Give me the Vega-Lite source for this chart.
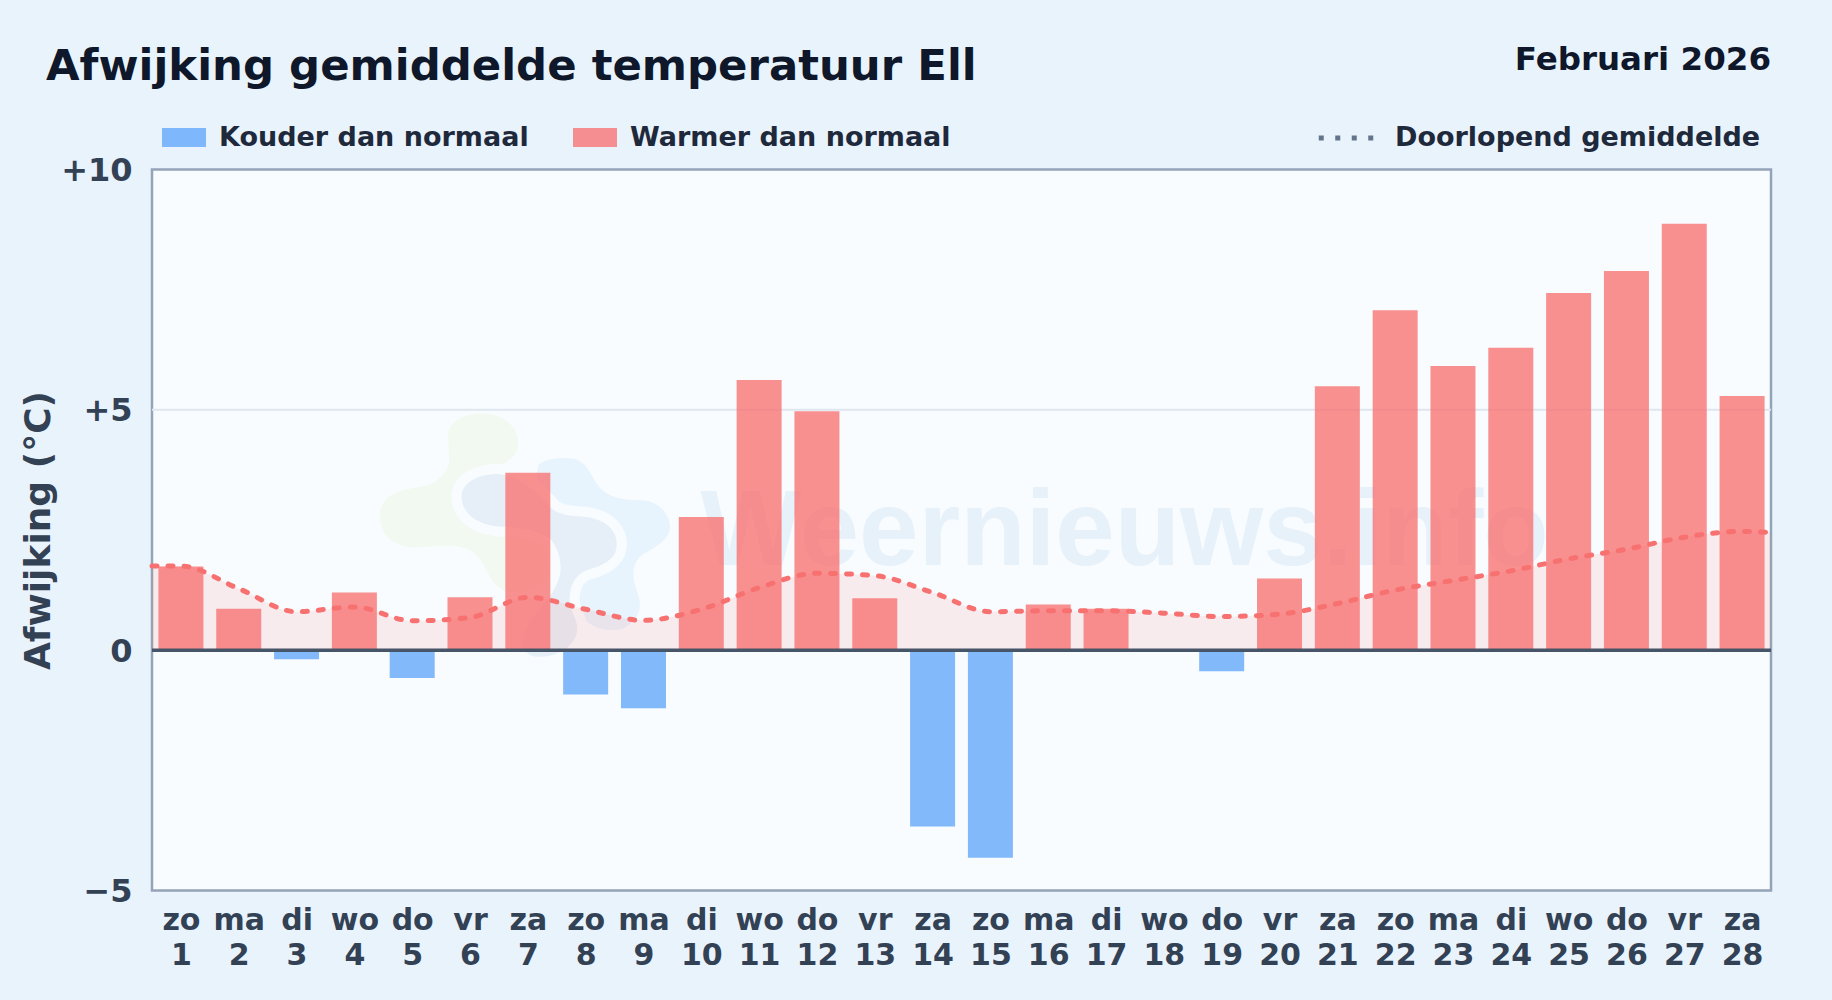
{"$schema":"https://vega.github.io/schema/vega-lite/v6.json","autosize":"none","width":1619,"height":721,"padding":{"left":152,"top":169.5,"right":61,"bottom":109.5},"background":"#e9f3fc","view":{"fill":"#f8fcff","stroke":"#94a3b8","strokeWidth":2.5},"config":{"font":"DejaVu Sans","axis":{"domain":false,"ticks":false,"grid":false,"title":null}},"datasets":{"dagen":[{"day":1,"afwijking":1.74,"type":"Warmer dan normaal"},{"day":2,"afwijking":0.86,"type":"Warmer dan normaal"},{"day":3,"afwijking":-0.19,"type":"Kouder dan normaal"},{"day":4,"afwijking":1.2,"type":"Warmer dan normaal"},{"day":5,"afwijking":-0.58,"type":"Kouder dan normaal"},{"day":6,"afwijking":1.1,"type":"Warmer dan normaal"},{"day":7,"afwijking":3.69,"type":"Warmer dan normaal"},{"day":8,"afwijking":-0.92,"type":"Kouder dan normaal"},{"day":9,"afwijking":-1.21,"type":"Kouder dan normaal"},{"day":10,"afwijking":2.77,"type":"Warmer dan normaal"},{"day":11,"afwijking":5.62,"type":"Warmer dan normaal"},{"day":12,"afwijking":4.97,"type":"Warmer dan normaal"},{"day":13,"afwijking":1.08,"type":"Warmer dan normaal"},{"day":14,"afwijking":-3.67,"type":"Kouder dan normaal"},{"day":15,"afwijking":-4.32,"type":"Kouder dan normaal"},{"day":16,"afwijking":0.95,"type":"Warmer dan normaal"},{"day":17,"afwijking":0.86,"type":"Warmer dan normaal"},{"day":18,"afwijking":0,"type":"Warmer dan normaal"},{"day":19,"afwijking":-0.44,"type":"Kouder dan normaal"},{"day":20,"afwijking":1.49,"type":"Warmer dan normaal"},{"day":21,"afwijking":5.49,"type":"Warmer dan normaal"},{"day":22,"afwijking":7.07,"type":"Warmer dan normaal"},{"day":23,"afwijking":5.91,"type":"Warmer dan normaal"},{"day":24,"afwijking":6.29,"type":"Warmer dan normaal"},{"day":25,"afwijking":7.43,"type":"Warmer dan normaal"},{"day":26,"afwijking":7.89,"type":"Warmer dan normaal"},{"day":27,"afwijking":8.87,"type":"Warmer dan normaal"},{"day":28,"afwijking":5.29,"type":"Warmer dan normaal"}],"gemiddelde":[{"day":0.5,"gem":1.75},{"day":1,"gem":1.75},{"day":2,"gem":1.28},{"day":3,"gem":0.8},{"day":4,"gem":0.9},{"day":5,"gem":0.61},{"day":6,"gem":0.68},{"day":7,"gem":1.1},{"day":8,"gem":0.85},{"day":9,"gem":0.62},{"day":10,"gem":0.85},{"day":11,"gem":1.3},{"day":12,"gem":1.6},{"day":13,"gem":1.55},{"day":14,"gem":1.2},{"day":15,"gem":0.8},{"day":16,"gem":0.82},{"day":17,"gem":0.82},{"day":18,"gem":0.77},{"day":19,"gem":0.7},{"day":20,"gem":0.75},{"day":21,"gem":0.97},{"day":22,"gem":1.25},{"day":23,"gem":1.45},{"day":24,"gem":1.65},{"day":25,"gem":1.9},{"day":26,"gem":2.1},{"day":27,"gem":2.35},{"day":28,"gem":2.47},{"day":28.5,"gem":2.45}],"logo":[{"day":4.097,"waarde":5.409}],"merk":[{"day":17.32,"waarde":1.77,"tekst":"Weernieuws.info"}],"maand":[{"tekst":"Februari 2026"}],"kop":[{"tekst":"Afwijking gemiddelde temperatuur Ell"}]},"layer":[{"data":{"name":"logo"},"mark":{"type":"point","filled":true,"fill":"#f2f9f1","strokeWidth":0,"opacity":1,"size":0.4444,"shape":"M265,130C265,95 315,70 370,70C430,70 475,110 475,160C475,210 420,225 380,240L500,420C560,440 585,480 580,530C560,590 480,620 430,600C380,570 380,520 345,490C300,455 230,470 170,472C110,475 60,440 60,380C60,320 110,300 180,290C240,280 265,240 268,210C268,180 265,160 265,130Z"},"encoding":{"x":{"field":"day","type":"quantitative","scale":{"domain":[0.5,28.5],"nice":false,"zero":false,"padding":0},"axis":{"values":[1,2,3,4,5,6,7,8,9,10,11,12,13,14,15,16,17,18,19,20,21,22,23,24,25,26,27,28],"title":null,"domain":false,"ticks":false,"grid":false,"labelOverlap":false,"labelBound":false,"labelFlush":false,"labelAngle":0,"labelFont":"DejaVu Sans","labelFontSize":30,"labelFontWeight":"bold","labelColor":"#334155","labelPadding":15,"labelLineHeight":35,"labelExpr":"[['zo','ma','di','wo','do','vr','za'][(datum.value-1)%7], ''+datum.value]"}},"y":{"field":"waarde","type":"quantitative","scale":{"domain":[-5,10],"nice":false,"zero":false,"padding":0},"axis":{"values":[-5,0,5,10],"title":"Afwijking (°C)","titleFont":"DejaVu Sans","titleFontSize":36,"titleFontWeight":"bold","titleColor":"#334155","titlePadding":3,"domain":false,"ticks":false,"grid":false,"labelPadding":20,"labelOffset":1,"labelFont":"DejaVu Sans","labelFontSize":32,"labelFontWeight":"bold","labelColor":"#334155","labelExpr":"datum.value>0 ? '+'+datum.value : (datum.value<0 ? '−'+abs(datum.value) : '0')"}}}},{"data":{"name":"logo"},"mark":{"type":"point","filled":true,"fill":"#e7f4fd","strokeWidth":0,"opacity":1,"size":0.4444,"shape":"M535,225C555,205 600,200 640,205C680,215 690,250 710,280C740,325 790,330 850,330C900,335 930,375 930,410C930,450 880,475 845,495C815,520 815,560 830,600C845,640 850,680 790,715C740,730 690,710 665,680C640,640 620,640 600,600L570,400C540,340 525,260 535,225Z"},"encoding":{"x":{"field":"day","type":"quantitative"},"y":{"field":"waarde","type":"quantitative"}}},{"data":{"name":"logo"},"mark":{"type":"point","filled":false,"stroke":"#f8fcff","strokeWidth":20,"opacity":1,"size":0.4444,"shape":"M305,320C305,270 370,250 420,252C470,255 530,300 575,355C610,385 680,375 700,385C745,395 775,430 770,470C765,515 715,530 680,540C640,555 625,600 630,640C635,670 652,690 652,715C650,770 590,800 540,800C500,800 485,780 490,740C500,680 570,640 595,570C610,530 600,480 570,445C530,420 480,410 435,410C370,410 305,380 305,320Z"},"encoding":{"x":{"field":"day","type":"quantitative"},"y":{"field":"waarde","type":"quantitative"}}},{"data":{"name":"logo"},"mark":{"type":"point","filled":true,"fill":"#e6eff8","strokeWidth":0,"opacity":1,"size":0.4444,"shape":"M305,320C305,270 370,250 420,252C470,255 530,300 575,355C610,385 680,375 700,385C745,395 775,430 770,470C765,515 715,530 680,540C640,555 625,600 630,640C635,670 652,690 652,715C650,770 590,800 540,800C500,800 485,780 490,740C500,680 570,640 595,570C610,530 600,480 570,445C530,420 480,410 435,410C370,410 305,380 305,320Z"},"encoding":{"x":{"field":"day","type":"quantitative"},"y":{"field":"waarde","type":"quantitative"}}},{"data":{"name":"merk"},"mark":{"type":"text","font":"Liberation Sans","fontWeight":"bold","fontSize":107,"color":"#e7f1fa","align":"center","baseline":"alphabetic"},"encoding":{"x":{"field":"day","type":"quantitative"},"y":{"field":"waarde","type":"quantitative"},"text":{"field":"tekst"}}},{"data":{"values":[{"lijn":5}]},"mark":{"type":"rule","color":"#dfe6ee","strokeWidth":2},"encoding":{"y":{"field":"lijn","type":"quantitative"}}},{"data":{"name":"gemiddelde"},"mark":{"type":"area","color":"#f87171","opacity":0.12,"interpolate":"monotone"},"encoding":{"x":{"field":"day","type":"quantitative"},"y":{"field":"gem","type":"quantitative","stack":null},"y2":{"datum":0}}},{"data":{"name":"dagen"},"mark":{"type":"bar","width":45,"opacity":0.78},"encoding":{"x":{"field":"day","type":"quantitative"},"y":{"field":"afwijking","type":"quantitative"},"color":{"field":"type","type":"nominal","scale":{"domain":["Kouder dan normaal","Warmer dan normaal"],"range":["#60a5fa","#f87171"]},"legend":{"title":null,"orient":"none","legendX":10,"legendY":-54,"direction":"horizontal","columns":2,"padding":0,"symbolType":"M-1,-0.432H1V0.432H-1Z","symbolSize":1936,"symbolOpacity":0.78,"symbolStrokeWidth":0,"labelOffset":13,"columnPadding":44,"labelLimit":500,"labelFont":"DejaVu Sans","labelFontSize":27,"labelFontWeight":"bold","labelColor":"#1e293b"}}}},{"data":{"values":[{"lijn":0}]},"mark":{"type":"rule","color":"#475569","strokeWidth":3.5},"encoding":{"y":{"field":"lijn","type":"quantitative"}}},{"data":{"name":"gemiddelde"},"mark":{"type":"line","stroke":"#f87171","strokeWidth":5,"strokeDash":[5,11],"strokeCap":"round","interpolate":"monotone"},"encoding":{"x":{"field":"day","type":"quantitative"},"y":{"field":"gem","type":"quantitative"}}},{"data":{"name":"gemiddelde"},"mark":{"type":"line","opacity":0,"strokeWidth":5},"encoding":{"x":{"field":"day","type":"quantitative"},"y":{"field":"gem","type":"quantitative"},"stroke":{"datum":"Doorlopend gemiddelde","scale":{"range":["#64748b"]},"legend":{"title":null,"orient":"none","legendX":1164,"legendY":-61.5,"padding":0,"symbolType":"stroke","symbolSize":2970,"symbolOpacity":1,"symbolStrokeWidth":5,"symbolDash":[5,11.5],"labelOffset":19,"labelLimit":500,"labelFont":"DejaVu Sans","labelFontSize":27,"labelFontWeight":"bold","labelColor":"#1e293b"}}}},{"data":{"name":"maand"},"mark":{"type":"text","font":"DejaVu Sans","fontWeight":"bold","fontSize":32.5,"color":"#0f172a","align":"right","baseline":"alphabetic","dy":-99.5},"encoding":{"x":{"datum":28.5},"y":{"datum":10},"text":{"field":"tekst"}}},{"data":{"name":"kop"},"mark":{"type":"text","font":"DejaVu Sans","fontWeight":"bold","fontSize":43.4,"color":"#0f172a","align":"left","baseline":"alphabetic","dx":-106,"dy":-90},"encoding":{"x":{"datum":0.5},"y":{"datum":10},"text":{"field":"tekst"}}}]}
